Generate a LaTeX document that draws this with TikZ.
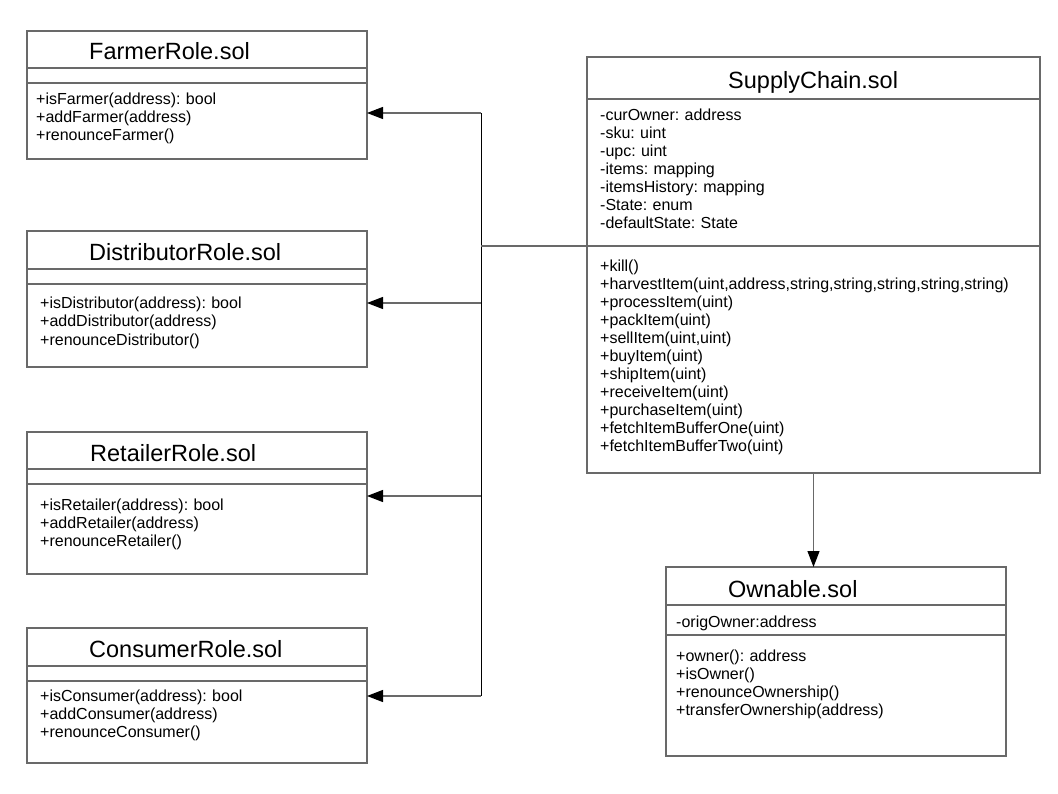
\documentclass[tikz,border=0pt]{standalone}
\usepackage{fontspec}
\setmainfont{Liberation Sans}
\usetikzlibrary{positioning,arrows.meta}
\definecolor{linegray}{RGB}{105,105,105}
\frenchspacing

\begin{document}
\begin{tikzpicture}[x=1pt, y=-1pt,
      part/.style={draw=linegray, line width=1.2pt, inner sep=0pt, outer sep=0pt, minimum width=340pt},
      wide/.style={part, minimum width=453pt},
      cname/.style={anchor=base west, inner sep=0pt, font=\fontsize{23.5}{28}\selectfont},
      members/.style={anchor=base west, inner sep=0pt, text width=430pt, align=left, font=\fontsize{16}{18}\selectfont},
      conn/.style={draw=linegray, line width=1.2pt},
      arr/.style={conn, -{Triangle[length=16pt, width=12pt, color=black]}}
    ]
    \useasboundingbox (0,0) rectangle (1058,794);

    % Left column: the four role contracts
    \node[part, anchor=north west, minimum height=37pt] (farmer) at (27,31) {};
    \node[part, minimum height=15pt, below=0pt of farmer] (farmerA) {};
    \node[part, minimum height=76pt, below=0pt of farmerA] (farmerM) {};
    \node[cname] (farmerN) at (89,60) {FarmerRole.sol};
    \node[members] (farmerOps) at (36,105) {+isFarmer(address): bool\\+addFarmer(address)\\+renounceFarmer()};

    \node[part, anchor=north west, minimum height=38pt] (distributor) at (27,231) {};
    \node[part, minimum height=15pt, below=0pt of distributor] (distributorA) {};
    \node[part, minimum height=83pt, below=0pt of distributorA] (distributorM) {};
    \node[cname] (distributorN) at (89,261) {DistributorRole.sol};
    \node[members] (distributorOps) at (40,309) {+isDistributor(address): bool\\+addDistributor(address)\\+renounceDistributor()};

    \node[part, anchor=north west, minimum height=37pt] (retailer) at (27,432) {};
    \node[part, minimum height=15pt, below=0pt of retailer] (retailerA) {};
    \node[part, minimum height=90pt, below=0pt of retailerA] (retailerM) {};
    \node[cname] (retailerN) at (90,461) {RetailerRole.sol};
    \node[members] (retailerOps) at (40,510) {+isRetailer(address): bool\\+addRetailer(address)\\+renounceRetailer()};

    \node[part, anchor=north west, minimum height=38pt] (consumer) at (27,628) {};
    \node[part, minimum height=15pt, below=0pt of consumer] (consumerA) {};
    \node[part, minimum height=82pt, below=0pt of consumerA] (consumerM) {};
    \node[cname] (consumerN) at (89,657) {ConsumerRole.sol};
    \node[members] (consumerOps) at (40,701) {+isConsumer(address): bool\\+addConsumer(address)\\+renounceConsumer()};

    % Right column: SupplyChain and Ownable
    \node[wide, anchor=north west, minimum height=42pt] (sc) at (587,57) {};
    \node[wide, minimum height=147pt, below=0pt of sc] (scA) {};
    \node[wide, minimum height=227pt, below=0pt of scA] (scM) {};
    \node[cname] (scN) at (728,88.5) {SupplyChain.sol};
    \node[members] (scVars) at (600,121) {-curOwner: address\\-sku: uint\\-upc: uint\\-items: mapping\\-itemsHistory: mapping\\-State: enum\\-defaultState: State};
    \node[members] (scOps) at (600,271.5) {+kill()\\+harvestItem(uint,address,string,string,string,string,string)\\+processItem(uint)\\+packItem(uint)\\+sellItem(uint,uint)\\+buyItem(uint)\\+shipItem(uint)\\+receiveItem(uint)\\+purchaseItem(uint)\\+fetchItemBufferOne(uint)\\+fetchItemBufferTwo(uint)};

    \node[part, anchor=north west, minimum height=38pt] (own) at (666,567) {};
    \node[part, minimum height=30pt, below=0pt of own] (ownA) {};
    \node[part, minimum height=121pt, below=0pt of ownA] (ownM) {};
    \node[cname] (ownN) at (728,597) {Ownable.sol};
    \node[members] (ownVars) at (676,627) {-origOwner:address};
    \node[members] (ownOps) at (676,661) {+owner(): address\\+isOwner()\\+renounceOwnership()\\+transferOwnership(address)};

    % Connectors
    \foreach \c/\y in {farmer/113, distributor/303, retailer/496, consumer/696}{
      \coordinate (j\c) at (481,\y);
      \draw[arr] (j\c) -- (j\c -| \c.east);
    }
    \draw[black, line width=0.9pt] (jfarmer) -- (jconsumer);
    \draw[conn] (scA.south west) -- (scA.south west -| jfarmer);
    \draw[arr] (scM.south) -- (scM.south |- own.north);
  \end{tikzpicture}
\end{document}
